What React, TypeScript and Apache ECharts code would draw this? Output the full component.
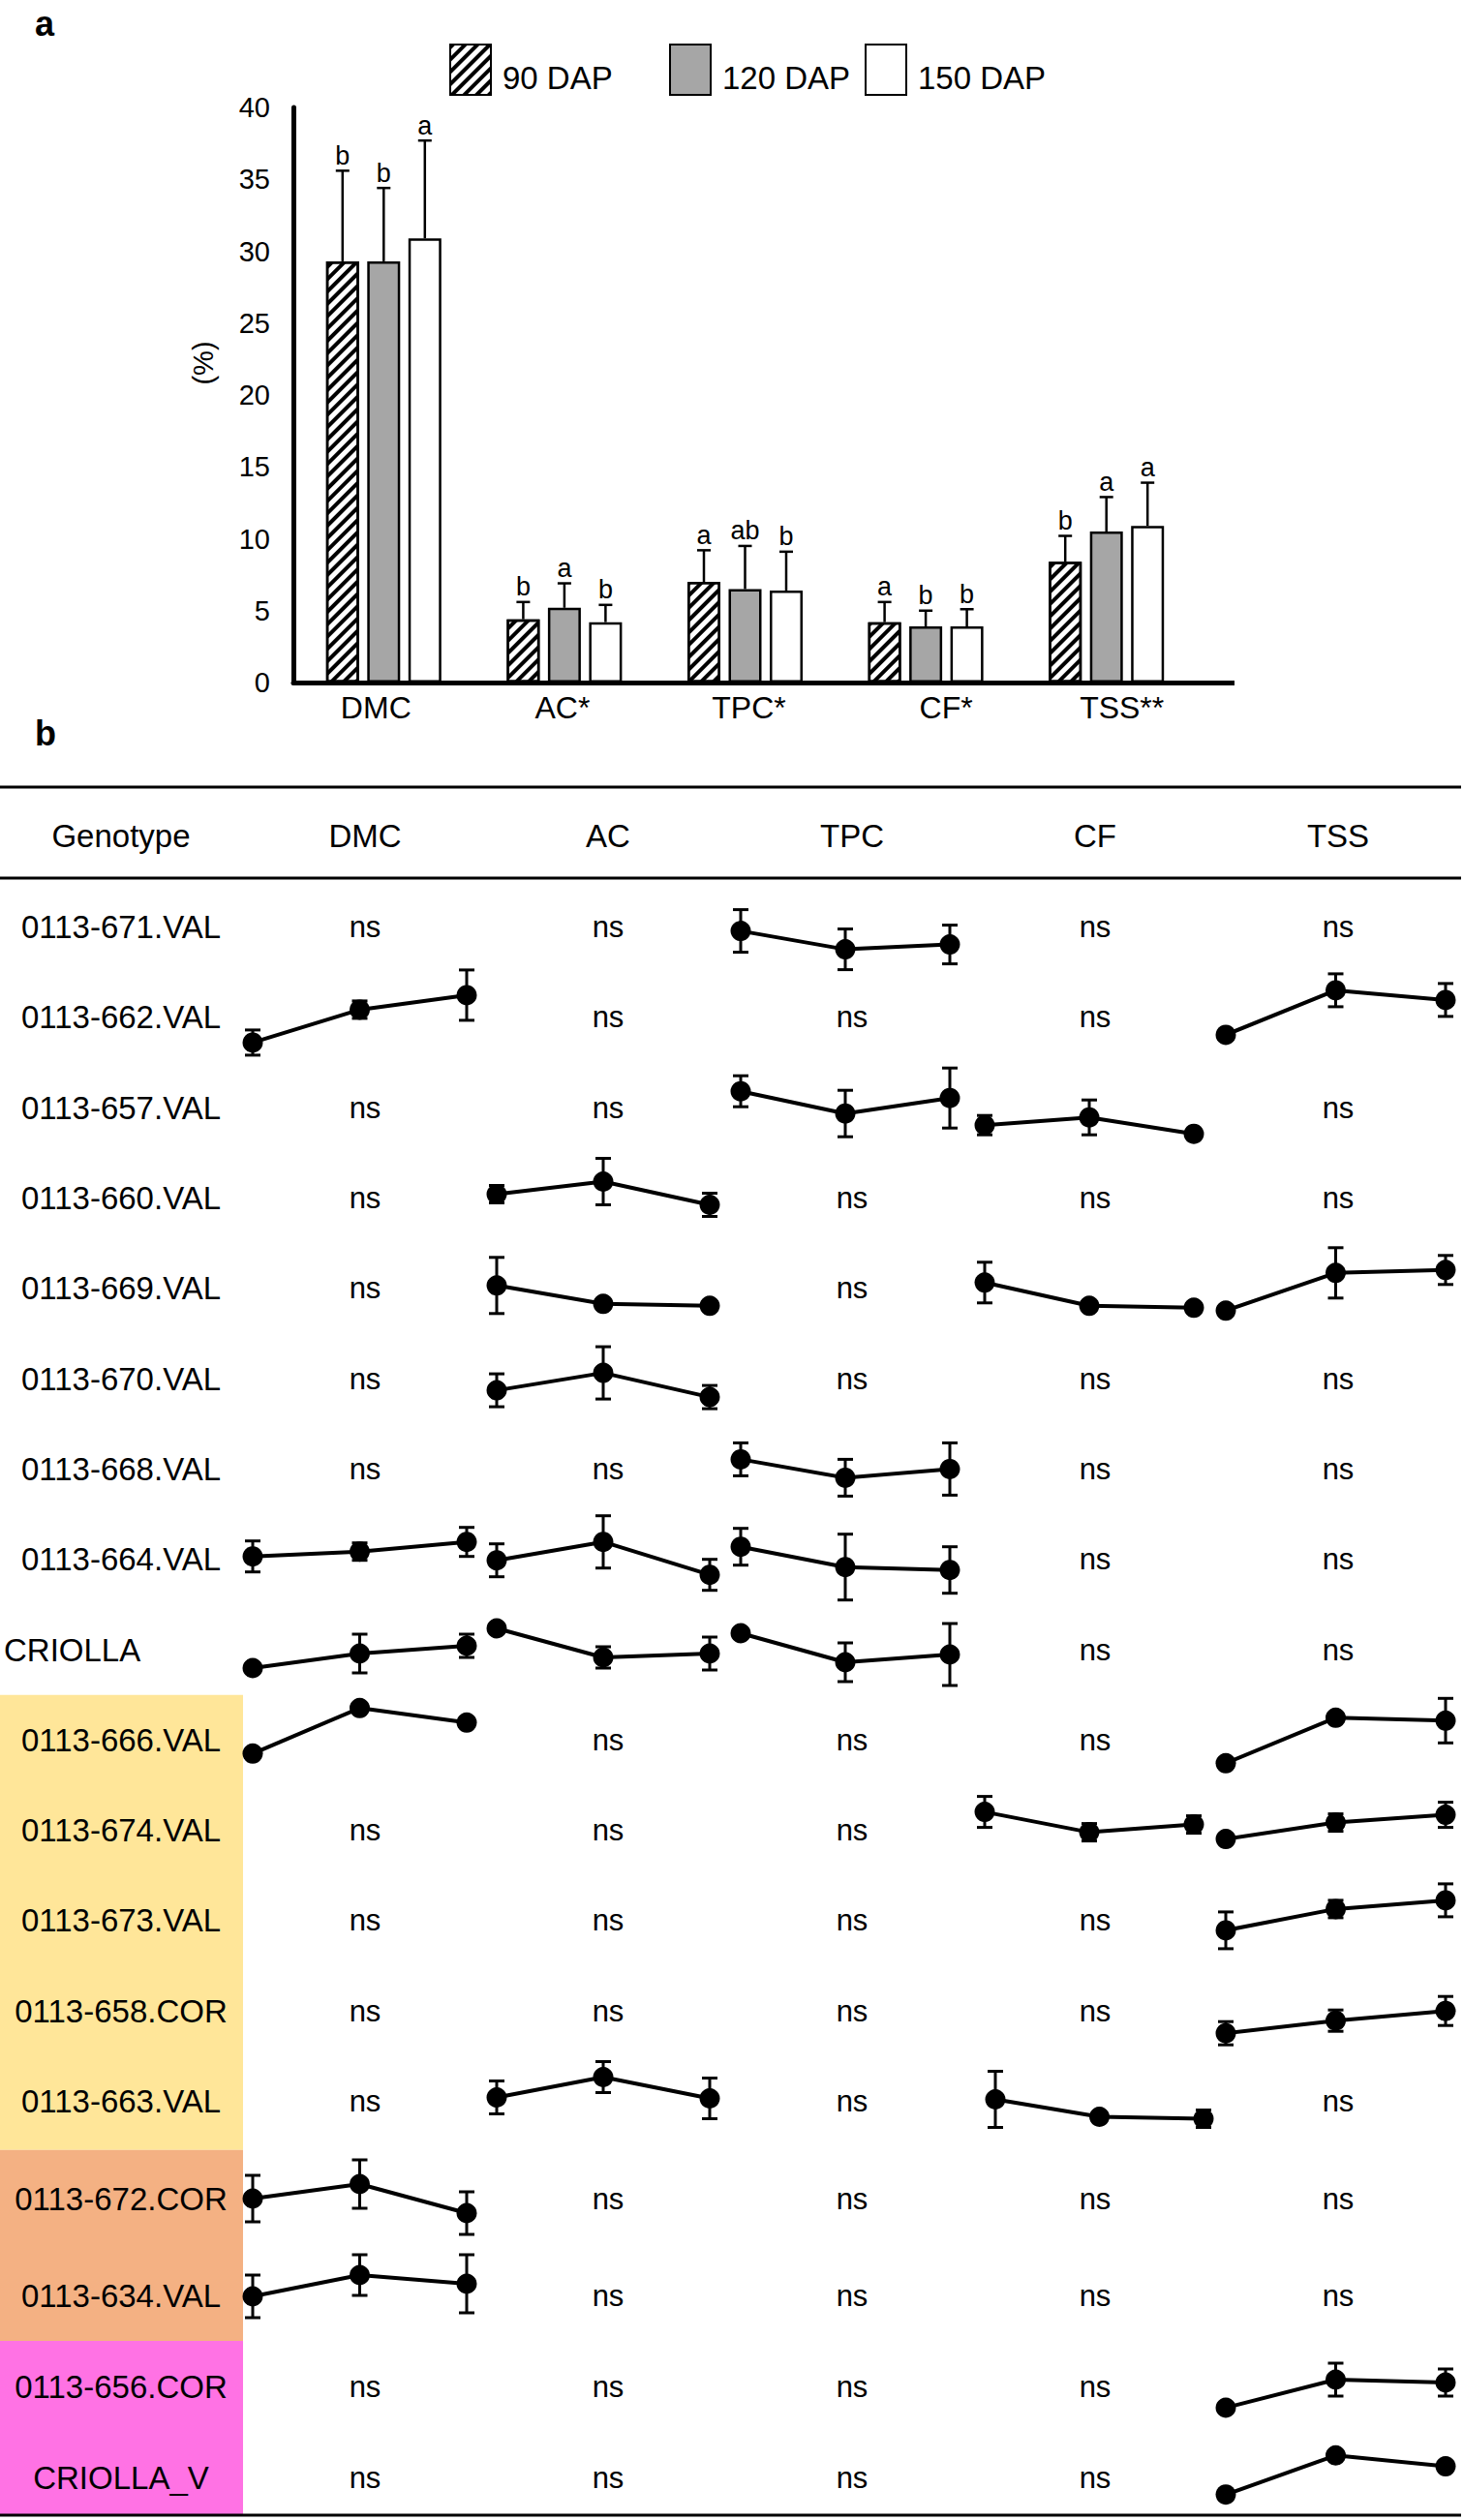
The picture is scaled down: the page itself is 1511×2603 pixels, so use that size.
import React, { useEffect, useRef } from 'react';
import * as echarts from 'echarts';

const FONT = '"Liberation Sans", Arial, Helvetica, sans-serif';

// ---------------- Panel a data ----------------
const barCategories = ['DMC', 'AC*', 'TPC*', 'CF*', 'TSS**'];
const dapNames = ['90 DAP', '120 DAP', '150 DAP'];
const mean90 = [29.3, 4.4, 7.0, 4.2, 8.4];
const mean120 = [29.3, 5.2, 6.5, 3.9, 10.5];
const mean150 = [30.9, 4.2, 6.4, 3.9, 10.9];
const sd90 = [6.3, 1.2, 2.2, 1.4, 1.8];
const sd120 = [5.1, 1.7, 3.0, 1.1, 2.4];
const sd150 = [6.8, 1.2, 2.7, 1.2, 3.0];
const letters90 = ['b', 'b', 'a', 'a', 'b'];
const letters120 = ['b', 'a', 'ab', 'b', 'a'];
const letters150 = ['a', 'b', 'b', 'b', 'a'];

// ---------------- Panel b data ----------------
const traits = ['DMC', 'AC', 'TPC', 'CF', 'TSS'];
const genotypes = [
  '0113-671.VAL', '0113-662.VAL', '0113-657.VAL', '0113-660.VAL', '0113-669.VAL',
  '0113-670.VAL', '0113-668.VAL', '0113-664.VAL', 'CRIOLLA', '0113-666.VAL',
  '0113-674.VAL', '0113-673.VAL', '0113-658.COR', '0113-663.VAL', '0113-672.COR',
  '0113-634.VAL', '0113-656.COR', 'CRIOLLA_V',
];
const yellowGroup = ['0113-666.VAL', '0113-674.VAL', '0113-673.VAL', '0113-658.COR', '0113-663.VAL'];
const orangeGroup = ['0113-672.COR', '0113-634.VAL'];
const magentaGroup = ['0113-656.COR', 'CRIOLLA_V'];

// significant trends: relative level at 90 / 120 / 150 DAP and its error
const sigCells = [
  { genotype: '0113-671.VAL', trait: 'TPC', mean: [-0.4, -2.3, -1.8], err: [2.2, 2.1, 2.0] },
  { genotype: '0113-662.VAL', trait: 'DMC', mean: [-2.6, 0.8, 2.3], err: [1.3, 0.9, 2.6] },
  { genotype: '0113-662.VAL', trait: 'TSS', mean: [-1.8, 2.8, 1.8], err: [0, 1.7, 1.7] },
  { genotype: '0113-657.VAL', trait: 'TPC', mean: [1.7, -0.6, 1.0], err: [1.6, 2.4, 3.1] },
  { genotype: '0113-657.VAL', trait: 'CF', mean: [-1.8, -1.0, -2.7], err: [1.0, 1.8, 0] },
  { genotype: '0113-660.VAL', trait: 'AC', mean: [0.4, 1.7, -0.7], err: [0.9, 2.4, 1.2] },
  { genotype: '0113-669.VAL', trait: 'AC', mean: [0.3, -1.6, -1.8], err: [2.9, 0, 0] },
  { genotype: '0113-669.VAL', trait: 'CF', mean: [0.6, -1.8, -2.0], err: [2.1, 0, 0] },
  { genotype: '0113-669.VAL', trait: 'TSS', mean: [-2.3, 1.6, 1.9], err: [0, 2.6, 1.5] },
  { genotype: '0113-670.VAL', trait: 'AC', mean: [-1.2, 0.6, -1.9], err: [1.7, 2.7, 1.2] },
  { genotype: '0113-668.VAL', trait: 'TPC', mean: [1.0, -0.9, 0.0], err: [1.7, 1.9, 2.7] },
  { genotype: '0113-664.VAL', trait: 'DMC', mean: [0.3, 0.8, 1.8], err: [1.6, 0.9, 1.5] },
  { genotype: '0113-664.VAL', trait: 'AC', mean: [-0.1, 1.8, -1.6], err: [1.7, 2.7, 1.6] },
  { genotype: '0113-664.VAL', trait: 'TPC', mean: [1.3, -0.8, -1.1], err: [1.9, 3.4, 2.4] },
  { genotype: 'CRIOLLA', trait: 'DMC', mean: [-1.9, -0.4, 0.4], err: [0, 2.0, 1.2] },
  { genotype: 'CRIOLLA', trait: 'AC', mean: [2.2, -0.8, -0.4], err: [0, 1.1, 1.7] },
  { genotype: 'CRIOLLA', trait: 'TPC', mean: [1.7, -1.3, -0.5], err: [0, 2.0, 3.2] },
  { genotype: '0113-666.VAL', trait: 'DMC', mean: [-1.4, 3.3, 1.8], err: [0, 0, 0] },
  { genotype: '0113-666.VAL', trait: 'TSS', mean: [-2.4, 2.3, 2.0], err: [0, 0, 2.3] },
  { genotype: '0113-674.VAL', trait: 'CF', mean: [1.9, -0.2, 0.6], err: [1.6, 0.9, 0.9] },
  { genotype: '0113-674.VAL', trait: 'TSS', mean: [-0.9, 0.8, 1.6], err: [0, 0.9, 1.3] },
  { genotype: '0113-673.VAL', trait: 'TSS', mean: [-1.0, 1.2, 2.1], err: [1.9, 0.9, 1.7] },
  { genotype: '0113-658.COR', trait: 'TSS', mean: [-2.3, -1.0, 0.0], err: [1.2, 1.1, 1.5] },
  { genotype: '0113-663.VAL', trait: 'AC', mean: [0.4, 2.5, 0.3], err: [1.7, 1.6, 2.1] },
  { genotype: '0113-663.VAL', trait: 'CF', mean: [0.2, -1.6, -1.8], err: [2.9, 0, 0.9] },
  { genotype: '0113-672.COR', trait: 'DMC', mean: [0.0, 1.5, -1.5], err: [2.4, 2.5, 2.2] },
  { genotype: '0113-634.VAL', trait: 'DMC', mean: [-0.1, 2.1, 1.2], err: [2.2, 2.1, 3.0] },
  { genotype: '0113-656.COR', trait: 'TSS', mean: [-2.2, 0.7, 0.4], err: [0, 1.7, 1.4] },
  { genotype: 'CRIOLLA_V', trait: 'TSS', mean: [-2.2, 2.1, 0.9], err: [0, 0, 0] },
];

// ---------------- Layout (positions / styles) ----------------
const ROW_Y = [957.6, 1050.9, 1144.2, 1237.5, 1330.8, 1424.1, 1517.4, 1610.7, 1704, 1797.3,
  1890.6, 1983.9, 2077.2, 2170.5, 2271, 2371, 2465, 2559];
const COL_X = [377, 628, 880, 1131, 1382];
const CELL_SPAN: Record<string, number[]> = {
  DMC: [261, 482], AC: [513, 733], TPC: [765, 981], CF: [1017, 1233], TSS: [1266, 1493],
};
const CELL_SPAN_OVERRIDE: Record<string, number[]> = { '0113-663.VAL|CF': [1028, 1243] };
const LABEL_SHIFT = [-8, -2, 4, 21, 16];
const LEGEND_LEFT = [464, 691, 893];
const BAR_OFFSETS = [-42.5, 0, 42.5];
const TABLE_BOTTOM = 2597;

function buildOption() {
  const grid: any[] = [{ left: 303, top: 111, width: 933, height: 594 }];
  const xAxis: any[] = [{
    gridIndex: 0,
    type: 'category',
    data: barCategories,
    axisLine: { lineStyle: { color: '#000', width: 5 } },
    axisTick: { show: false },
    axisLabel: {
      interval: 0,
      margin: 10,
      formatter: (v: string, i: number) => `{s${i}|${v}}`,
      rich: Object.fromEntries(LABEL_SHIFT.map((s, i) => [`s${i}`, {
        fontSize: 32, fontFamily: FONT, color: '#000',
        padding: s >= 0 ? [0, 0, 0, 2 * s] : [0, -2 * s, 0, 0],
      }])),
    },
  }];
  const yAxis: any[] = [{
    gridIndex: 0,
    type: 'value',
    min: 0,
    max: 40,
    interval: 5,
    axisLine: { show: true, lineStyle: { color: '#000', width: 5 } },
    axisTick: { show: false },
    splitLine: { show: false },
    axisLabel: { fontSize: 29, color: '#000', fontFamily: FONT, margin: 24 },
  }];

  const means = [mean90, mean120, mean150];
  const sds = [sd90, sd120, sd150];
  const letters = [letters90, letters120, letters150];
  const fills = ['#ffffff', '#a6a6a6', '#ffffff'];

  const series: any[] = [];
  dapNames.forEach((name, k) => {
    const itemStyle: any = { color: fills[k], borderColor: '#000', borderWidth: 2.5 };
    if (k === 0) {
      itemStyle.decal = {
        symbol: 'rect', symbolSize: 1, color: '#000',
        dashArrayX: [1, 0], dashArrayY: [3.5, 4.5], rotation: -Math.PI / 4,
      };
    }
    series.push({
      type: 'bar', name, xAxisIndex: 0, yAxisIndex: 0, data: means[k],
      barWidth: 34, barGap: '25%', itemStyle, z: 2, silent: true,
    });
  });
  dapNames.forEach((name, k) => {
    const off = BAR_OFFSETS[k];
    const lets = letters[k];
    series.push({
      type: 'custom', name: name + ' err', xAxisIndex: 0, yAxisIndex: 0, z: 5, silent: true,
      data: means[k].map((m, i) => [i, m, sds[k][i]]),
      renderItem: (params: any, api: any) => {
        const i = api.value(0), m = api.value(1), e = api.value(2);
        const base = api.coord([i, m]);
        const top = api.coord([i, m + e]);
        const x = base[0] + off;
        const st = { stroke: '#000', lineWidth: 2.5 };
        return {
          type: 'group',
          children: [
            { type: 'line', shape: { x1: x, y1: base[1], x2: x, y2: top[1] }, style: st },
            { type: 'line', shape: { x1: x - 7, y1: top[1], x2: x + 7, y2: top[1] }, style: st },
            {
              type: 'text', x, y: top[1] - 2,
              style: {
                text: lets[params.dataIndex], fontSize: 27, fontFamily: FONT, fill: '#000',
                align: 'center', verticalAlign: 'bottom', textAlign: 'center', textVerticalAlign: 'bottom',
              },
            },
          ],
        };
      },
    });
  });

  const errRender = (params: any, api: any) => {
    const x = api.value(0), v = api.value(1), e = api.value(2);
    if (!(e > 0)) return null;
    const lo = api.coord([x, v - e]);
    const hi = api.coord([x, v + e]);
    const cx = lo[0];
    const st = { stroke: '#000', lineWidth: 3 };
    return {
      type: 'group',
      children: [
        { type: 'line', shape: { x1: cx, y1: lo[1], x2: cx, y2: hi[1] }, style: st },
        { type: 'line', shape: { x1: cx - 8, y1: lo[1], x2: cx + 8, y2: lo[1] }, style: st },
        { type: 'line', shape: { x1: cx - 8, y1: hi[1], x2: cx + 8, y2: hi[1] }, style: st },
      ],
    };
  };

  sigCells.forEach((c, k) => {
    const gi = k + 1;
    const r = genotypes.indexOf(c.genotype);
    const span = CELL_SPAN_OVERRIDE[c.genotype + '|' + c.trait] || CELL_SPAN[c.trait];
    grid.push({ left: span[0], width: span[1] - span[0], top: ROW_Y[r] - 50, height: 100 });
    xAxis.push({ gridIndex: gi, type: 'value', min: 0, max: 2, show: false });
    yAxis.push({ gridIndex: gi, type: 'value', min: -5, max: 5, show: false });
    series.push({
      type: 'custom', xAxisIndex: gi, yAxisIndex: gi, z: 3, silent: true, clip: false,
      data: c.mean.map((v, i) => [i, v, c.err[i]]),
      renderItem: errRender,
    });
    series.push({
      type: 'line', xAxisIndex: gi, yAxisIndex: gi, z: 4, silent: true, clip: false,
      data: c.mean.map((v, i) => [i, v]),
      symbol: 'circle', symbolSize: 21,
      lineStyle: { color: '#000', width: 4 },
      itemStyle: { color: '#000' },
    });
  });

  // ---------- graphic: table frame, labels ----------
  const txt = (text: string, x: number, y: number, size: number, extra: any = {}) => ({
    type: 'text', x, y, z: 10, silent: true,
    style: {
      text, fontSize: size, fontFamily: FONT, fill: '#000',
      align: 'center', verticalAlign: 'middle', textAlign: 'center', textVerticalAlign: 'middle',
      ...extra,
    },
  });
  const rule = (y: number) => ({
    type: 'line', z: 10, silent: true,
    shape: { x1: 0, y1: y, x2: 1509, y2: y },
    style: { stroke: '#000', lineWidth: 3 },
  });

  const elements: any[] = [];
  elements.push(txt('a', 46, 24, 36, { fontWeight: 'bold' }));
  elements.push(txt('b', 47, 757, 36, { fontWeight: 'bold' }));
  elements.push({ ...txt('(%)', 210, 375, 29), rotation: Math.PI / 2 });
  elements.push({
    type: 'line', z: 10, silent: true,
    shape: { x1: 1234, y1: 705.5, x2: 1275, y2: 705.5 },
    style: { stroke: '#000', lineWidth: 5 },
  });

  // background bands
  const bandFor = (group: string[], color: string) => {
    const idx = group.map((g) => genotypes.indexOf(g));
    const first = Math.min(...idx), last = Math.max(...idx);
    const top = (ROW_Y[first] + ROW_Y[first - 1]) / 2;
    const bottom = last + 1 < ROW_Y.length ? (ROW_Y[last] + ROW_Y[last + 1]) / 2 : TABLE_BOTTOM;
    elements.push({
      type: 'rect', z: -10, silent: true,
      shape: { x: 0, y: top, width: 251, height: bottom - top },
      style: { fill: color },
    });
  };
  bandFor(yellowGroup, '#FFE699');
  bandFor(orangeGroup, '#F4B183');
  bandFor(magentaGroup, '#FF72E4');

  elements.push(rule(813));
  elements.push(rule(907));
  elements.push(rule(TABLE_BOTTOM + 1));

  elements.push(txt('Genotype', 125, 863, 33));
  traits.forEach((t, j) => elements.push(txt(t, COL_X[j], 863, 33)));

  genotypes.forEach((g, r) => {
    if (g === 'CRIOLLA') {
      elements.push(txt(g, 4, ROW_Y[r], 33, { align: 'left', textAlign: 'left' }));
    } else {
      elements.push(txt(g, 125, ROW_Y[r], 33));
    }
    traits.forEach((t, j) => {
      const has = sigCells.some((c) => c.genotype === g && c.trait === t);
      if (!has) elements.push(txt('ns', COL_X[j], ROW_Y[r], 31));
    });
  });

  const legend = dapNames.map((n, k) => ({
    data: [n],
    left: LEGEND_LEFT[k],
    top: 45,
    padding: 0,
    icon: 'rect',
    itemWidth: 42,
    itemHeight: 52,
    selectedMode: false,
    formatter: (name: string) => `{t|${name}}`,
    textStyle: {
      fontSize: 33, fontFamily: FONT, color: '#000',
      rich: { t: { fontSize: 33, fontFamily: FONT, color: '#000', padding: [17, 0, 0, 7] } },
    },
  }));

  return {
    animation: false,
    backgroundColor: '#ffffff',
    textStyle: { fontFamily: FONT },
    legend,
    grid,
    xAxis,
    yAxis,
    series,
    graphic: { elements },
  };
}

export default function App() {
  const ref = useRef<HTMLDivElement>(null);
  useEffect(() => {
    const chart = echarts.init(ref.current as HTMLDivElement, null, { renderer: 'svg' });
    chart.setOption(buildOption() as any);
    return () => chart.dispose();
  }, []);
  return (
    <div
      ref={ref}
      style={{ position: 'absolute', left: 0, top: 0, width: 1511, height: 2603, background: '#fff' }}
    />
  );
}
